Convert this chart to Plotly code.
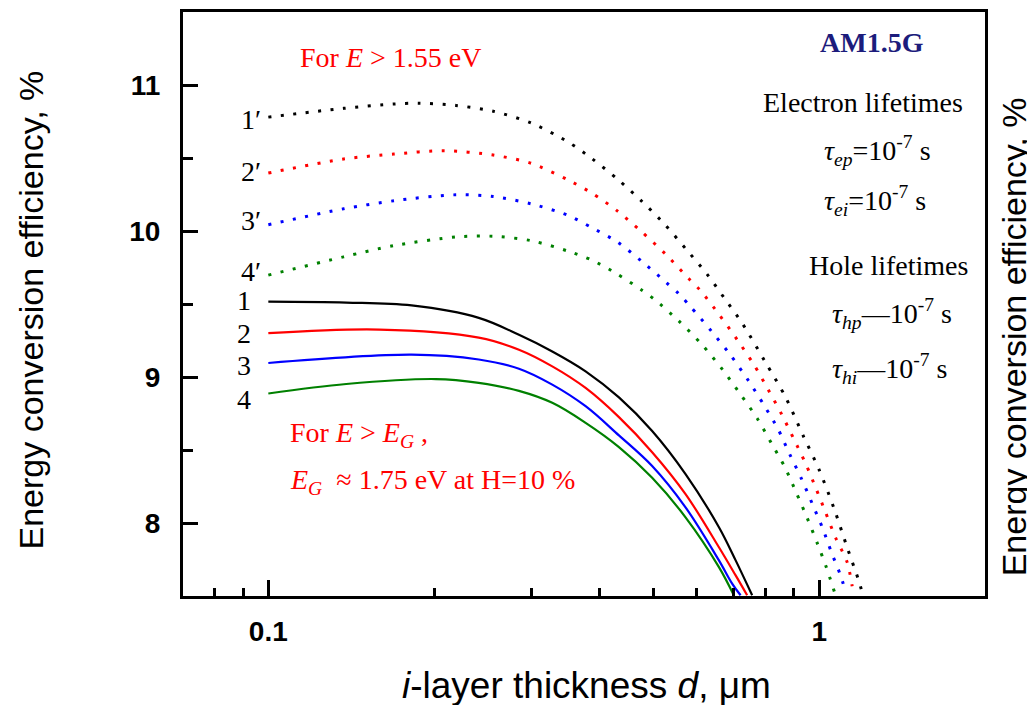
import math
import plotly.graph_objects as go

# ---------------- data ----------------
# solid curves 1-4 : For E > E_G
d_s1 = [0.100, 0.1385, 0.182, 0.241, 0.2851, 0.3277, 0.3767, 0.4330, 0.4975, 0.5720, 0.6577, 0.7053, 0.7557]
y_s1 = [9.516, 9.51, 9.49, 9.405, 9.289, 9.175, 9.039, 8.860, 8.630, 8.335, 7.971, 7.744, 7.505]

d_s2 = [0.100, 0.159, 0.241, 0.2851, 0.3277, 0.3767, 0.4330, 0.4975, 0.5720, 0.6577, 0.7053, 0.740]
y_s2 = [9.30, 9.325, 9.27, 9.187, 9.073, 8.925, 8.725, 8.485, 8.198, 7.834, 7.641, 7.505]

d_s3 = [0.100, 0.182, 0.241, 0.2851, 0.3277, 0.3767, 0.4330, 0.4975, 0.5720, 0.6577, 0.6950, 0.720]
y_s3 = [9.096, 9.153, 9.12, 9.057, 8.948, 8.80, 8.600, 8.390, 8.107, 7.744, 7.585, 7.505]

d_s4 = [0.100, 0.1385, 0.2015, 0.241, 0.2851, 0.3277, 0.3767, 0.4330, 0.4975, 0.5720, 0.6577, 0.700]
y_s4 = [8.887, 8.952, 8.986, 8.96, 8.905, 8.823, 8.686, 8.520, 8.310, 8.039, 7.698, 7.505]

# dotted curves 1'-4' : For E > 1.55 eV
d_p1 = [0.100, 0.137, 0.169, 0.188, 0.219, 0.256, 0.300, 0.350, 0.387, 0.430, 0.476, 0.525,
        0.574, 0.625, 0.673, 0.725, 0.797, 0.869, 0.934, 1.000, 1.065, 1.121, 1.182, 1.198]
y_p1 = [10.78, 10.84, 10.87, 10.875, 10.86, 10.82, 10.74, 10.61, 10.495, 10.357, 10.205, 10.043,
        9.873, 9.707, 9.539, 9.368, 9.107, 8.862, 8.603, 8.364, 8.096, 7.846, 7.596, 7.517]

d_p2 = [0.100, 0.137, 0.169, 0.2085, 0.256, 0.300, 0.350, 0.387, 0.430, 0.476, 0.528, 0.580,
        0.6075, 0.659, 0.710, 0.761, 0.808, 0.855, 0.900, 0.945, 0.9875, 1.027, 1.071, 1.124, 1.148]
y_p2 = [10.397, 10.493, 10.527, 10.55, 10.52, 10.464, 10.35, 10.259, 10.138, 9.995, 9.836, 9.673,
        9.596, 9.425, 9.255, 9.085, 8.914, 8.744, 8.573, 8.407, 8.233, 8.073, 7.899, 7.732, 7.566]

d_p3 = [0.100, 0.137, 0.169, 0.219, 0.256, 0.300, 0.350, 0.387, 0.430, 0.476, 0.528, 0.556,
        0.584, 0.638, 0.691, 0.744, 0.794, 0.8425, 0.884, 0.9275, 0.971, 1.014, 1.054, 1.095, 1.113]
y_p3 = [10.043, 10.152, 10.207, 10.248, 10.236, 10.186, 10.107, 10.022, 9.925, 9.793, 9.646, 9.571,
        9.482, 9.312, 9.148, 8.975, 8.807, 8.641, 8.471, 8.308, 8.134, 7.966, 7.793, 7.635, 7.545]

d_p4 = [0.100, 0.137, 0.169, 0.219, 0.256, 0.300, 0.350, 0.387, 0.430, 0.476, 0.503, 0.556,
        0.613, 0.669, 0.720, 0.772, 0.820, 0.867, 0.9085, 0.951, 0.992, 1.030, 1.068]
y_p4 = [9.698, 9.823, 9.90, 9.959, 9.964, 9.934, 9.862, 9.80, 9.705, 9.596, 9.530, 9.384,
        9.221, 9.046, 8.880, 8.716, 8.543, 8.380, 8.209, 8.035, 7.862, 7.698, 7.518]

colors = ["#000000", "#ff0000", "#0000ff", "#008000"]
solid_labels = ["1", "2", "3", "4"]
dotted_labels = ["1′", "2′", "3′", "4′"]

x_major = [0.1, 1]
x_major_text = ["0.1", "1"]
x_minor = [0.08, 0.09, 0.2, 0.3, 0.4, 0.5, 0.6, 0.7, 0.8, 0.9]
y_major = [8, 9, 10, 11]
y_minor = [8.5, 9.5, 10.5]

# ---------------- figure ----------------
W, H = 1027, 705
L, R, T, B = 183, 42, 9, 109
pw, ph = W - L - R, H - T - B


def px(xp):
    return (xp - L) / pw


def py(yp):
    return (H - B - yp) / ph


fig = go.Figure()

dotted = [(d_p1, y_p1), (d_p2, y_p2), (d_p3, y_p3), (d_p4, y_p4)]
solid = [(d_s1, y_s1), (d_s2, y_s2), (d_s3, y_s3), (d_s4, y_s4)]

for (dx, dy), c, name in zip(dotted, colors, dotted_labels):
    fig.add_trace(go.Scatter(x=dx, y=dy, mode="lines", name=name,
                             line=dict(color=c, width=3, dash="3px,9.5px", shape="spline", smoothing=0.8)))
for (dx, dy), c, name in zip(solid, colors, solid_labels):
    fig.add_trace(go.Scatter(x=dx, y=dy, mode="lines", name=name,
                             line=dict(color=c, width=2.2, shape="spline", smoothing=1.0)))

serif = "Liberation Serif"
sans = "Liberation Sans"
ann = []


def add(text, x, y, size=28, color="black", xanchor="center", yanchor="middle", family=serif, angle=0):
    ann.append(dict(text=text, x=px(x), y=py(y), xref="paper", yref="paper", showarrow=False,
                    xanchor=xanchor, yanchor=yanchor, textangle=angle,
                    font=dict(family=family, size=size, color=color)))


# curve labels
for lab, yy in zip(dotted_labels, [117, 169, 219, 270]):
    add(lab, 263, yy, xanchor="right")
for lab, yy in zip(solid_labels, [299, 332, 364, 398]):
    add(lab, 253, yy, xanchor="right")

add("For <i>E</i> > 1.55 eV", 390, 55, color="#ff0000")
add("For <i>E</i> > <i>E</i><sub><i>G</i></sub> ,", 288, 434, color="#ff0000", xanchor="left")
add("<i>E</i><sub><i>G</i></sub>  ≈ 1.75 eV at H=10 %", 288, 481, color="#ff0000", xanchor="left")

add("<b>AM1.5G</b>", 872, 40, color="#1c1c7c")
add("Electron lifetimes", 863, 100)
add("<i>τ</i><sub><i>ep</i></sub>=10<sup>-7</sup> s", 822, 148, xanchor="left")
add("<i>τ</i><sub><i>ei</i></sub>=10<sup>-7</sup> s", 822, 198, xanchor="left")
add("Hole lifetimes", 888, 264)
add("<i>τ</i><sub><i>hp</i></sub>—10<sup>-7</sup> s", 830, 312, xanchor="left")
add("<i>τ</i><sub><i>hi</i></sub>—10<sup>-7</sup> s", 830, 367, xanchor="left")

# axis titles
add("Energy conversion efficiency, %", 31, 309, size=34, family=sans, angle=-90)
add("Energy conversion efficiency, %", 1014, 336, size=34, family=sans, angle=-90)
add("<i>i</i>-layer thickness <i>d</i>, μm", 586, 686, size=37, family=sans)

tickfont = dict(family=sans, size=28, color="black", weight="bold")

fig.update_layout(
    width=W, height=H,
    margin=dict(l=L, r=R, t=T, b=B),
    paper_bgcolor="white", plot_bgcolor="white",
    showlegend=False,
    annotations=ann,
    xaxis=dict(type="log", range=[math.log10(0.07), math.log10(2.0)],
               tickmode="array", tickvals=x_major, ticktext=x_major_text,
               ticks="inside", ticklen=16, tickwidth=3, tickcolor="black",
               showline=True, linewidth=3, linecolor="black", mirror=True,
               showgrid=False, zeroline=False, ticklabelstandoff=8,
               tickfont=tickfont,
               minor=dict(tickmode="array", tickvals=x_minor, ticks="inside", ticklen=8,
                          tickwidth=3, tickcolor="black", showgrid=False)),
    yaxis=dict(range=[7.5, 11.5], tickmode="array", tickvals=y_major,
               ticktext=[str(v) for v in y_major],
               ticks="inside", ticklen=15, tickwidth=3, tickcolor="black",
               showline=True, linewidth=3, linecolor="black", mirror=True,
               showgrid=False, zeroline=False, ticklabelstandoff=14,
               tickfont=tickfont,
               minor=dict(tickmode="array", tickvals=y_minor, ticks="inside", ticklen=10,
                          tickwidth=3, tickcolor="black", showgrid=False)),
)

fig.write_html("out.html")
